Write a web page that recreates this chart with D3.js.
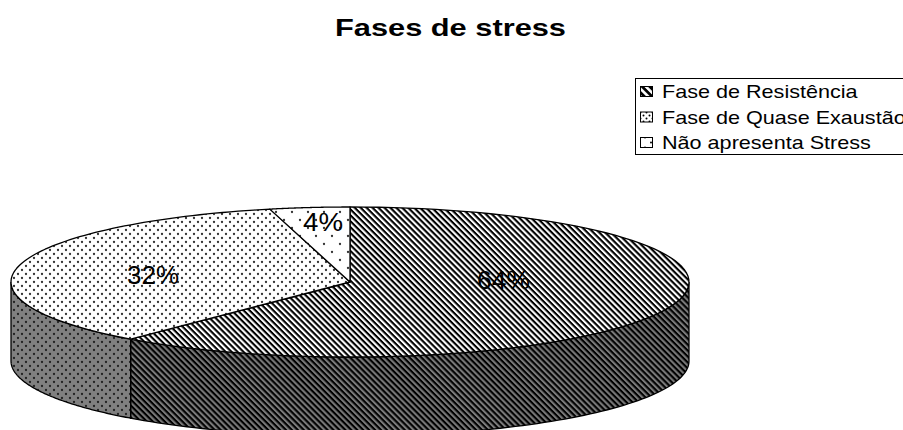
<!DOCTYPE html>
<html><head><meta charset="utf-8">
<script src="https://cdn.jsdelivr.net/npm/d3@7/dist/d3.min.js"></script>
<style>html,body{margin:0;padding:0;background:#fff;overflow:hidden}svg{display:block}text{font-family:"Liberation Sans",Arial,sans-serif;fill:#000}</style>
</head><body><div id="c"></div>
<script>
const title = "Fases de stress";
const categories = ["Fase de Resistência","Fase de Quase Exaustão","Não apresenta Stress"];
const labelPercents = [64,32,4];
// sweep of each slice as actually drawn in the tilted pie (share of the turn)
const drawnSweep = [61.2,35,3.8];

const W=903,H=430, CX=350, CY=282, RX=339, RY=75, DEPTH=79, STRETCH=1.2;
const svg=d3.select("#c").append("svg").attr("width",W).attr("height",H);
const defs=svg.append("defs");
function stripes(id,bg,period,sw){
  const p=defs.append("pattern").attr("id",id).attr("patternUnits","userSpaceOnUse")
    .attr("width",period).attr("height",period).attr("patternTransform","rotate(45)");
  p.append("rect").attr("width",period).attr("height",period).attr("fill",bg);
  p.append("rect").attr("width",period).attr("height",sw).attr("fill","#000");
}
function dots(id,bg,sx,sy,r,col){
  const p=defs.append("pattern").attr("id",id).attr("patternUnits","userSpaceOnUse").attr("width",sx).attr("height",sy);
  p.append("rect").attr("width",sx).attr("height",sy).attr("fill",bg);
  [[sx/4,sy/4],[sx*3/4,sy*3/4]].forEach(d=>p.append("circle").attr("cx",d[0]).attr("cy",d[1]).attr("r",r).attr("fill",col));
}
stripes("pTop0","#fff",4.2,2.1);
stripes("pSide0","#7a7a7a",4.2,2.1);
stripes("pSw0","#fff",5.4,2.8);
dots("pTop1","#fff",8,8,1.15,"#333");
dots("pSide1","#808080",8,8,1.15,"#222");
dots("pTop2","#fff",16,16,1.15,"#333");
dots("pSw1","#fff",6,6,1,"#000");
dots("pSw2","#fff",12,10,1,"#000");

const sx=d3.scaleLinear().domain([-1,1]).range([CX-RX,CX+RX]);
const sy=d3.scaleLinear().domain([-1,1]).range([CY-RY,CY+RY]);
const arcs=d3.pie().sort(null)(drawnSweep);
const line=d3.line().x(d=>d[0]).y(d=>d[1]);
const pt=(a,dz=0)=>[sx(Math.sin(a)),sy(-Math.cos(a))+dz];
const samples=(a0,a1,n=90)=>d3.range(n+1).map(i=>a0+(a1-a0)*i/n);

const topFill=["url(#pTop0)","url(#pTop1)","url(#pTop2)"];
const sideFill=["url(#pSide0)","url(#pSide1)","url(#pSide1)"];
const FRONT0=Math.PI/2, FRONT1=Math.PI*1.5;
arcs.forEach((a,i)=>{
  const a0=Math.max(a.startAngle,FRONT0), a1=Math.min(a.endAngle,FRONT1);
  if(a1<=a0) return;
  const upper=samples(a0,a1).map(t=>pt(t));
  const lower=samples(a1,a0).map(t=>pt(t,DEPTH));
  svg.append("path").attr("d",line(upper.concat(lower))+"Z").attr("fill",sideFill[i])
    .attr("stroke","#000").attr("stroke-width",1.3);
});
arcs.forEach((a,i)=>{
  const pts=[[CX,CY]].concat(samples(a.startAngle,a.endAngle).map(t=>pt(t)));
  svg.append("path").attr("d",line(pts)+"Z").attr("fill",topFill[i])
    .attr("stroke","#000").attr("stroke-width",1.3).attr("stroke-linejoin","round");
});
// slice labels: centre x, baseline y, drawn width
const labelAt=[[503.5,289,53],[153,283.5,52],[323,231,40]];
svg.selectAll(".lab").data(labelPercents).join("text").attr("class","lab")
  .attr("x",(d,i)=>labelAt[i][0]).attr("y",(d,i)=>labelAt[i][1]).attr("text-anchor","middle")
  .attr("textLength",(d,i)=>labelAt[i][2]).attr("lengthAdjust","spacingAndGlyphs")
  .attr("font-size",25).text(d=>d+"%");
svg.append("text").attr("x",450.5).attr("y",36).attr("text-anchor","middle")
  .attr("font-size",24).attr("font-weight","bold")
  .attr("textLength",231).attr("lengthAdjust","spacingAndGlyphs").text(title);
// legend
svg.append("rect").attr("x",635.5).attr("y",78.5).attr("width",290).attr("height",76)
  .attr("fill","#fff").attr("stroke","#000").attr("stroke-width",1);
const swFill=["url(#pSw0)","url(#pSw1)","url(#pSw2)"];
const rowY=d3.scalePoint().domain(categories).range([91.5,142.5]);
categories.forEach((c,i)=>{
  svg.append("rect").attr("x",640.5).attr("y",rowY(c)-5).attr("width",12).attr("height",10)
    .attr("fill",swFill[i]).attr("stroke","#000");
  svg.append("text").attr("transform",`translate(662,${rowY(c)+6.5}) scale(${STRETCH},1)`)
    .attr("font-size",18).text(c);
});
</script></body></html>
